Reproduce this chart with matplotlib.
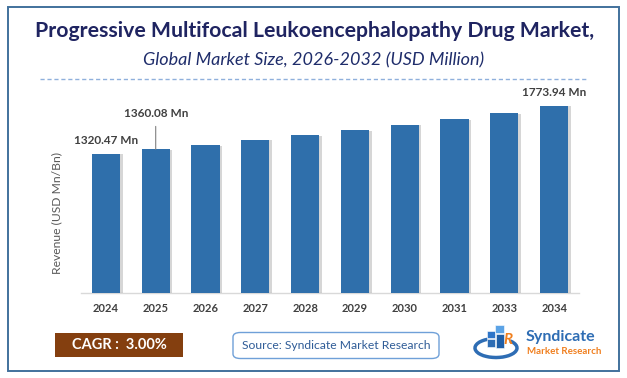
import matplotlib
matplotlib.use("Agg")
import matplotlib.pyplot as plt
import matplotlib.patheffects as pe
from matplotlib.patches import Rectangle, FancyBboxPatch, Arc
from matplotlib.lines import Line2D

# ---- data ----
years = ["2024", "2025", "2026", "2027", "2028", "2029", "2030", "2031", "2033", "2034"]
revenue = [1320.47, 1360.08, 1401.0, 1452.0, 1494.0, 1543.0, 1595.0, 1647.0, 1700.0, 1773.94]
labelled = {0: "1320.47 Mn", 1: "1360.08 Mn", 9: "1773.94 Mn"}
title = "Progressive Multifocal Leukoencephalopathy Drug Market,"
subtitle = "Global Market Size, 2026-2032 (USD Million)"
ylabel = "Revenue (USD Mn/Bn)"
cagr_text = "CAGR :  3.00%"
source_text = "Source: Syndicate Market Research"

plt.rcParams['font.family'] = ['Lato', 'DejaVu Sans']

W, H = 627, 378
fig = plt.figure(figsize=(W / 100, H / 100), dpi=100)
fig.patch.set_facecolor("white")

def fx(x):
    return x / W

def fy(y):
    return 1 - y / H

# outer frame
fig.add_artist(Rectangle((fx(8), fy(371)), fx(611), (371 - 7) / H, transform=fig.transFigure,
                         fill=False, edgecolor="#41719C", lw=1.4))

# titles
fig.text(fx(315), fy(31), title, ha="center", va="center", fontsize=15.3, fontweight="bold",
         color="#1F2461")
fig.text(fx(314), fy(60), subtitle, ha="center", va="center", fontsize=13, style="italic",
         color="#1F2D6B")
fig.add_artist(Line2D([fx(40), fx(587)], [fy(79), fy(79)], transform=fig.transFigure,
                      color="#8FB0DC", lw=1.0, ls=(0, (3, 2))))

# chart axes
ymax = 1960
base_px = 293.3
scale = 9.45
ax = fig.add_axes([fx(81), fy(base_px), (579 - 81) / W, (ymax / scale) / H])
x = list(range(len(years)))
bars = ax.bar(x, revenue, width=0.57, color="#2F6FAB", zorder=3)
for b in bars:
    b.set_path_effects([pe.SimplePatchShadow(offset=(1.8, -0.6), shadow_rgbFace="black", alpha=0.16),
                        pe.Normal()])
ax.set_xlim(-0.5, len(years) - 0.5)
ax.set_ylim(0, ymax)
ax.set_xticks(x)
ax.set_xticklabels(years, fontsize=8, fontweight="bold", color="#404040")
ax.tick_params(axis="x", length=0, pad=7)
ax.set_yticks([])
for s in ["top", "right", "left"]:
    ax.spines[s].set_visible(False)
ax.spines["bottom"].set_color("#D9D9D9")
ax.spines["bottom"].set_linewidth(1.0)
ax.patch.set_alpha(0)

for i, txt in labelled.items():
    if i == 1:
        ax.annotate(txt, xy=(x[i], revenue[i]), xytext=(0, 25.5), textcoords="offset points",
                    ha="center", va="center", fontsize=8.5, fontweight="bold", color="#404040",
                    arrowprops=dict(arrowstyle="-", color="#808080", lw=0.8, shrinkA=3, shrinkB=0))
    else:
        ax.annotate(txt, xy=(x[i], revenue[i]), xytext=(0, 9.5), textcoords="offset points",
                    ha="center", va="center", fontsize=8.5, fontweight="bold", color="#404040")

fig.text(fx(57), fy(213), ylabel, rotation=90, ha="center", va="center", fontsize=8.7,
         color="#595959")

# CAGR box
fig.add_artist(Rectangle((fx(55), fy(357)), (183 - 55) / W, (357 - 333) / H,
                         transform=fig.transFigure, facecolor="#843F0F", edgecolor="none"))
fig.text(fx(119), fy(345), cagr_text, ha="center", va="center", fontsize=10.5,
         fontweight="bold", color="white")

# source box
fig.add_artist(FancyBboxPatch((fx(233), fy(358.5)), (439 - 233) / W, (358.5 - 332.5) / H,
                              boxstyle="round,pad=0,rounding_size=0.012",
                              transform=fig.transFigure, facecolor="white",
                              edgecolor="#6FA0D8", lw=1.0))
fig.text(fx(336), fy(345.5), source_text, ha="center", va="center", fontsize=8.7,
         color="#2F5C97")

# logo
fig.add_artist(Arc((fx(496), fy(348)), 42 / W, 19 / H, theta1=120, theta2=400,
                   transform=fig.transFigure, color="#2E6DB4", lw=2.5))
for (lx, ly, lw_, lh, c) in [(487, 331, 8, 7, "#2E75C8"), (495, 325, 9, 8, "#5BA3E6"),
                             (487, 339, 8, 8, "#2E6DB4"), (496, 334, 8, 14, "#1F5FA8")]:
    fig.add_artist(Rectangle((fx(lx), fy(ly + lh)), lw_ / W, lh / H, transform=fig.transFigure,
                             facecolor=c, edgecolor="white", lw=0.4))
fig.text(fx(508), fy(340), "R", ha="center", va="center", fontsize=11, fontweight="bold",
         color="#F07F1E", style="italic")
fig.text(fx(526), fy(337), "Syndicate", ha="left", va="center", fontsize=11.5,
         fontweight="bold", color="#2E6DB4")
fig.text(fx(527), fy(351), "Market Research", ha="left", va="center", fontsize=7,
         fontweight="bold", color="#F07F1E")

fig.savefig("out.png", dpi=100, facecolor="white")
